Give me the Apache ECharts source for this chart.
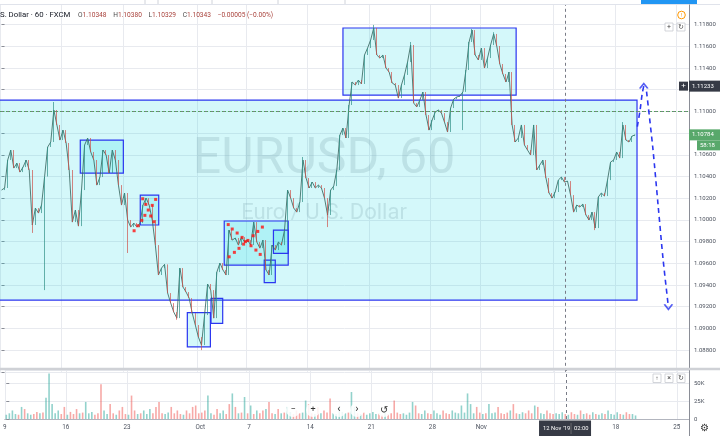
<!DOCTYPE html>
<html><head><meta charset="utf-8">
<script src="https://cdn.jsdelivr.net/npm/echarts@6/dist/echarts.min.js"></script>
<style>html,body{margin:0;padding:0;background:#fff}#c{width:720px;height:436px}</style>
</head><body><div id="c"></div>
<script>
// ---- data (6-hour slots) ----
const closes = [1.10275,1.10294,1.10552,1.10644,1.10478,1.10524,1.10441,1.10487,1.10552,1.10460,
1.09953,1.10109,1.10063,1.10137,1.10400,1.10672,1.10718,1.11013,1.10875,1.10736,
1.10828,1.10709,1.10460,1.09980,1.10091,1.09943,1.10275,1.10690,1.10755,1.10626,
1.10552,1.10321,1.10395,1.10644,1.10598,1.10432,1.10644,1.10552,1.10321,1.10137,
1.10248,1.09999,1.09934,1.09971,1.09934,1.09971,1.10137,1.10201,1.10137,1.09999,
1.09768,1.09492,1.09556,1.09590,1.09326,1.09233,1.09150,1.09095,1.09556,1.09381,
1.09335,1.09279,1.09141,1.09031,1.08920,1.08846,1.09123,1.09409,1.09353,1.09095,
1.09519,1.09602,1.09538,1.09492,1.09906,1.09814,1.09833,1.09768,1.09842,1.09796,
1.09814,1.09768,1.09980,1.09796,1.09740,1.09814,1.09538,1.09492,1.09768,1.09722,
1.09796,1.09768,1.09906,1.10275,1.10201,1.10109,1.10072,1.10165,1.10552,1.10386,
1.10294,1.10349,1.10294,1.10321,1.10294,1.10201,1.10045,1.10275,1.10312,1.10460,
1.10782,1.10847,1.10755,1.11059,1.11271,1.11243,1.11289,1.11253,1.11520,1.11584,
1.11658,1.11769,1.11520,1.11492,1.11520,1.11400,1.11363,1.11262,1.11243,1.11123,
1.11243,1.11336,1.11455,1.11612,1.11077,1.11041,1.11105,1.11179,1.10967,1.10828,
1.10921,1.10994,1.11013,1.10985,1.10902,1.10810,1.11031,1.11114,1.11133,1.11142,
1.11180,1.11382,1.11640,1.11750,1.11520,1.11474,1.11584,1.11400,1.11492,1.11612,
1.11714,1.11603,1.11437,1.11345,1.11271,1.11363,1.10875,1.10718,1.10755,1.10875,
1.10690,1.10644,1.10598,1.10875,1.10460,1.10506,1.10552,1.10386,1.10248,1.10201,
1.10257,1.10367,1.10395,1.10349,1.10358,1.10229,1.10072,1.10137,1.10119,1.10146,
1.10045,1.09999,1.10072,1.09925,1.10211,1.10248,1.10220,1.10367,1.10533,1.10552,
1.10626,1.10570,1.10875,1.10736,1.10718,1.10773,1.10784];
const wicks = [[10,1.09880],[14,1.09353],[17,1.11087],[41,1.09695],[57,1.09080],[65,1.08800],[98,1.10580],
  [106,1.09934],[121,1.11797],[133,1.11640],[150,1.10828],[153,1.11760],[160,1.11730],[193,1.09906],[202,1.10902]];
const volumesK = [6,8,12,7,6,17,14,8,6,7,10,8,9,30,64,21,8,12,7,17,6,10,7,14,8,9,24,8,10,6,
8,49,12,7,21,8,6,12,17,7,6,33,12,7,8,12,7,14,8,17,24,8,7,9,17,8,12,7,6,12,
8,17,19,8,9,12,33,8,6,14,8,12,7,21,36,17,8,9,31,8,19,7,12,8,12,14,24,8,7,14,
8,9,17,10,7,12,8,9,26,21,8,7,17,8,12,9,29,8,7,17,10,8,9,38,17,8,7,9,6,8,
10,7,8,6,9,7,8,26,9,7,8,6,9,24,19,8,7,12,8,7,12,8,6,12,8,7,12,9,8,19,
9,36,21,8,17,9,7,8,21,8,9,17,8,7,9,12,21,8,7,9.5,8,12,8,19,17,8,7,12,8,7,
8,7,9.5,7,6,9.5,7,6,12,7,8,6,9.5,7,6,8,7,12,7,6,9.5,7,6,9.5,7,7,5];
const timeLabels = ['9','16','23','Oct','7','14','21','28','Nov','11','18','25'];
const timeLabelSlots = [0,20,40,64,80,100,120,140,156,180,200,220];
const legendValues = ['O','1.10348','H','1.10380','L','1.10329','C','1.10343','\u22120.00005 (\u22120.00%)'];
// boxes: [slotFrom, slotTo, priceTop, priceBottom]  (null = starts off the left edge)
const zoneBoxes = [[null,206.6,1.11105,1.09261],[111.0,167.3,1.11769,1.11151],[25.6,39.6,1.10736,1.10432],
  [45.1,51.1,1.10229,1.09953],[60.4,67.9,1.09146,1.08830],[68.1,71.9,1.09277,1.09046],
  [72.4,93.2,1.09990,1.09584],[85.4,89.0,1.09630,1.09422],[88.4,93.2,1.09906,1.09692]];
const redDots = [[45.9,1.10195],[50.1,1.10189],[46.9,1.10143],[49.0,1.10134],[47.7,1.10091],[46.6,1.10042],
  [48.5,1.10036],[45.6,1.09996],[49.5,1.09983],[44.4,1.09946],[43.1,1.09900],
  [73.7,1.09957],[75.0,1.09916],[76.6,1.09879],[78.2,1.09839],[80.1,1.09811],[81.8,1.09854],[83.3,1.09894],
  [84.8,1.09934],[74.0,1.09660],[75.7,1.09701],[77.2,1.09738],[78.7,1.09777],[79.3,1.09800],[81.1,1.09762],
  [82.7,1.09722],[84.1,1.09682]];
const arrowUp = [[206.7,1.10859],[207.6,1.11013],[208.3,1.11167],[208.8,1.11234]];
const arrowDown = [[209.7,1.11182],[211.7,1.10674],[213.5,1.10121],[215.1,1.09630],[216.8,1.09199]];
const crossPrice = 1.11233, crossSlot = 183.2, lastPrice = 1.10784, countdown = '58:18';
const crossTime = ["12 Nov '19", '02:00'];
const priceRange = [1.086, 1.12027], volMaxK = 69, N_SLOTS = 224;

// ---- build ----
const FONT = 'Roboto, "Noto Sans", sans-serif';
const chart = echarts.init(document.getElementById('c'), null, {renderer:'canvas', width:720, height:436});
const candle = closes.map((c,i)=>{const o = i ? closes[i-1] : c; return [i,o,c,Math.min(o,c),Math.max(o,c)];});
wicks.forEach(([s,p])=>{const d=candle[s]; if(p>d[4]) d[4]=p; if(p<d[3]) d[3]=p;});
const vol = volumesK.map((v,i)=>({value:[i,v], itemStyle:{color: candle[i][2] >= candle[i][1] ? 'rgba(38,166,154,0.5)' : 'rgba(239,83,80,0.5)'}}));
const gridX = timeLabelSlots.map(s=>s-0.5);
const labelMap = {}; gridX.forEach((v,k)=>{labelMap[String(v)] = timeLabels[k];});
const gridLineStyle = {color:'#e8eaef', width:1, type:'solid'};
const boxData = zoneBoxes.map(([a,b,t,bt])=>[ a===null ? {x:-5, yAxis:t} : {xAxis:a, yAxis:t}, {xAxis:b, yAxis:bt} ]);
const BLUE = '#2b36f0';

const option = {
  animation:false, backgroundColor:'#ffffff',
  grid:[{left:0, top:0, width:689, height:371.8},{left:0, top:370, width:689, height:49}],
  xAxis:[
    {type:'value', gridIndex:0, min:-0.5, max:N_SLOTS-0.5, show:false},
    {type:'value', gridIndex:1, min:-0.5, max:N_SLOTS-0.5,
     axisLine:{show:true, onZero:false, lineStyle:{color:'#b2b5be'}}, axisTick:{show:false}, splitLine:{show:false},
     axisLabel:{customValues:gridX, formatter:v=>labelMap[String(v)]||'', fontSize:6.3, color:'#4c525e', margin:5, fontFamily:FONT}}
  ],
  yAxis:[
    {type:'value', gridIndex:0, position:'right', min:priceRange[0], max:priceRange[1], interval:0.002,
     splitLine:{lineStyle:gridLineStyle}, axisLine:{show:false}, axisTick:{show:true, length:3, lineStyle:{color:'#8a8d96'}},
     axisLabel:{fontSize:6, color:'#4c525e', margin:5, fontFamily:FONT, formatter:v=>(v>1.0875 && v<1.119) ? v.toFixed(5) : ''}},
    {type:'value', gridIndex:1, position:'right', min:0, max:volMaxK, interval:25,
     splitLine:{lineStyle:gridLineStyle}, axisLine:{show:false}, axisTick:{show:true, length:3, lineStyle:{color:'#8a8d96'}},
     axisLabel:{fontSize:6, color:'#4c525e', margin:5, fontFamily:FONT, showMaxLabel:false, formatter:v=>v===0?'0':(v<=50?v+'K':'')}}
  ],
  series:[
    {type:'line', xAxisIndex:0, yAxisIndex:0, data:[], z:0,
     markLine:{silent:true, symbol:'none', z:0, label:{show:false}, lineStyle:gridLineStyle, data:gridX.map(v=>({xAxis:v}))}},
    {type:'line', xAxisIndex:1, yAxisIndex:1, data:[], z:0,
     markLine:{silent:true, symbol:'none', z:0, label:{show:false}, lineStyle:gridLineStyle, data:gridX.map(v=>({xAxis:v}))}},
    {type:'line', xAxisIndex:0, yAxisIndex:0, data:closes.map((c,i)=>[i,c]), symbol:'none', z:2,
     lineStyle:{color:'rgba(58,105,98,0.85)', width:1}},
    {type:'candlestick', xAxisIndex:0, yAxisIndex:0, data:candle, encode:{x:0, y:[1,2,3,4]}, barWidth:1.3, z:3,
     itemStyle:{color:'#2f9e92', color0:'#e0554f', borderColor:'#2f8f85', borderColor0:'#cf514b', borderWidth:0.7},
     markArea:{silent:true, itemStyle:{color:'rgba(0,214,225,0.17)', borderColor:BLUE, borderWidth:1.2}, data:boxData},
     markLine:{silent:true, symbol:'none', label:{show:false}, data:[
       {yAxis:crossPrice, lineStyle:{color:'#787b86', type:[3,3], width:1}},
       {yAxis:lastPrice, lineStyle:{color:'#4caf50', type:[1,2], width:1}},
       {xAxis:crossSlot, lineStyle:{color:'#787b86', type:[3,3], width:1}}
     ]}},
    {type:'bar', xAxisIndex:1, yAxisIndex:1, data:vol, barWidth:1.6, z:3,
     markLine:{silent:true, symbol:'none', label:{show:false}, data:[{xAxis:crossSlot, lineStyle:{color:'#787b86', type:[3,3], width:1}}]}},
    {type:'scatter', xAxisIndex:0, yAxisIndex:0, data:redDots, symbol:'rect', symbolSize:3, itemStyle:{color:'#ff1010'}, z:6},
    {type:'line', xAxisIndex:0, yAxisIndex:0, data:arrowUp, symbol:'none', smooth:0.3, z:6, lineStyle:{color:BLUE, width:1.6, type:[5,4]}},
    {type:'line', xAxisIndex:0, yAxisIndex:0, data:arrowDown, symbol:'none', smooth:0.3, z:6, lineStyle:{color:BLUE, width:1.6, type:[5,4]}},
    {type:'scatter', xAxisIndex:0, yAxisIndex:0, z:6,
     data:[{value:arrowUp[arrowUp.length-1], symbol:'path://M0,8L5,0L10,8'}, {value:arrowDown[arrowDown.length-1], symbol:'path://M0,0L5,8L10,0'}],
     symbolSize:[8,5], itemStyle:{color:'rgba(0,0,0,0)', borderColor:BLUE, borderWidth:1.5}}
  ]
};
chart.setOption(option);

// ---- overlays (UI chrome) ----
const yCross = chart.convertToPixel({gridIndex:0}, [0, crossPrice])[1];
const yLast = chart.convertToPixel({gridIndex:0}, [0, lastPrice])[1];
const xCross = chart.convertToPixel({gridIndex:0}, [crossSlot, 1.1])[0];
const txt = (x,y,t,size,color,align,extra)=>Object.assign({type:'text', x, y, z:60, silent:true,
  style:{text:t, fontSize:size, fontFamily:FONT, fill:color, textAlign:align||'left', textVerticalAlign:'middle'}}, extra||{});
const rect = (x,y,w,h,fill,stroke,z)=>({type:'rect', z:z||55, silent:true, shape:{x,y,width:w,height:h}, style:{fill, stroke:stroke||null, lineWidth:stroke?0.8:0}});
const legendRich = {k:{fill:'#4a4a4a', fontSize:6.6, fontFamily:FONT}, v:{fill:'#a8413b', fontSize:6.6, fontFamily:FONT}};
let legendStr = '';
for (let i=0;i<8;i+=2) legendStr += '{k|'+legendValues[i]+'}{v|'+legendValues[i+1]+'}  ';
legendStr += '{v|'+legendValues[8]+'}';
const graphics = [
  txt(324,160,'EURUSD, 60',50,'rgba(149,152,161,0.25)','center',{z:0}),
  txt(324,213,'Euro / U.S. Dollar',22,'rgba(149,152,161,0.25)','center',{z:0}),
  rect(0,0,720,4.5,'#ffffff',null,50),
  {type:'line', z:51, silent:true, shape:{x1:0,y1:4.5,x2:720,y2:4.5}, style:{stroke:'#e0e3eb', lineWidth:1}},
  ...[145,158,212,278,345].map(x=>({type:'line', z:51, silent:true, shape:{x1:x,y1:0,x2:x,y2:4}, style:{stroke:'#d0d3da', lineWidth:1}})),
  rect(641,0,56,4,'#2196f3',null,52),
  {type:'line', z:51, silent:true, shape:{x1:689.5,y1:4.5,x2:689.5,y2:436}, style:{stroke:'#8a8d96', lineWidth:1}},
  rect(0,367.8,720,2.4,'#cfd1d6',null,51),
  txt(0,15,'S. Dollar \u00b7 60 \u00b7 FXCM',7.8,'#131722','left'),
  {type:'text', x:78, y:15, z:60, silent:true, style:{text:legendStr, rich:legendRich, textVerticalAlign:'middle'}},
  {type:'circle', z:60, silent:true, shape:{cx:681.5,cy:15,r:3.8}, style:{fill:'#fff', stroke:'#ff9800', lineWidth:1}},
  txt(681.5,15.3,'!',5.5,'#ff9800','center'),
  rect(665,23,8,8,'#fff','#c8cad0',56), txt(669,27,'+',7,'#444','center'),
  rect(677,23,8,8,'#fff','#c8cad0',56), txt(681,27,'\u21bb',6.5,'#444','center'),
  rect(653,374,8,8.5,'#fff','#c8cad0',56), txt(657,378.3,'\u2191',6,'#444','center'),
  rect(665,374,8,8.5,'#fff','#c8cad0',56), txt(669,378.3,'\u00d7',7,'#444','center'),
  rect(677,374,8,8.5,'#fff','#c8cad0',56), txt(681,378.3,'\u21bb',6.5,'#444','center'),
  ...[293,313,339,357,384].map(x=>({type:'circle', z:57, silent:true, shape:{cx:x,cy:410,r:7}, style:{fill:'rgba(255,255,255,0.85)'}})),
  txt(293,410,'\u2212',9,'#333','center'), txt(313,410,'+',9,'#333','center'),
  txt(339,409.5,'\u2039',11,'#333','center'), txt(357,409.5,'\u203a',11,'#333','center'),
  txt(384,410,'\u21ba',10,'#333','center'),
  rect(679,yCross-4.5,9,9,'#363a45',null,58), txt(683.5,yCross,'+',8,'#fff','center',{z:61}),
  rect(689,yCross-5.5,31,11,'#363a45',null,58), txt(692,yCross,crossPrice.toFixed(5),6,'#ffffff','left',{z:61}),
  rect(689,yLast-5.5,31,11,'#58a86b',null,58), txt(692,yLast,lastPrice.toFixed(5),6,'#ffffff','left',{z:61}),
  rect(697,yLast+5.5,23,10,'#58a86b',null,58), txt(700,yLast+10.5,countdown,6,'#ffffff','left',{z:61}),
  rect(xCross-26,420.5,52,15.5,'#363a45',null,58),
  txt(xCross-22,428.3,crossTime[0],5.8,'#ffffff','left',{z:61}),
  txt(xCross+9,428.3,crossTime[1],5.8,'#ffffff','left',{z:61}),
  {type:'line', z:61, silent:true, shape:{x1:xCross+6,y1:423,x2:xCross+6,y2:434}, style:{stroke:'#888', lineWidth:0.6}},
  txt(704,428,'\u2699',10,'#333','center')
];
chart.setOption({graphic:graphics});
</script></body></html>
